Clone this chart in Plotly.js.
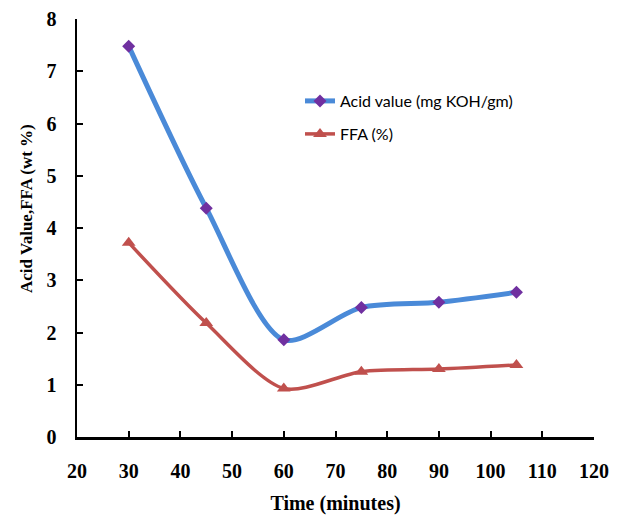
<!DOCTYPE html>
<html>
<head>
<meta charset="utf-8">
<script src="https://cdn.plot.ly/plotly-3.0.1.min.js"></script>
<style>html,body{margin:0;padding:0;background:#fff;}#chart{width:620px;height:515px;}</style>
</head>
<body>
<div id="chart"></div>
<script>
const timeMin = [30, 45, 60, 75, 90, 105];
const acidValue = [7.48, 4.38, 1.86, 2.48, 2.58, 2.77];
const ffaPct = [3.72, 2.18, 0.93, 1.25, 1.30, 1.38];
const xTicks = [20, 30, 40, 50, 60, 70, 80, 90, 100, 110, 120];
const yTicks = [0, 1, 2, 3, 4, 5, 6, 7, 8];

const serif = '"Liberation Serif", "Times New Roman", serif';
const tickFont = {family: serif, size: 20, color: '#000'};
const legFont = {family: 'Lato, "Open Sans", sans-serif', size: 16, color: '#000'};

const traces = [
  {
    x: timeMin, y: acidValue, name: 'Acid value (mg KOH/gm)',
    mode: 'lines+markers', type: 'scatter', legend: 'legend',
    line: {color: '#4A8AD8', width: 5, shape: 'spline', smoothing: 0.8},
    marker: {symbol: 'diamond', color: '#7030A0', size: 10}
  },
  {
    x: timeMin, y: ffaPct, name: 'FFA (%)',
    mode: 'lines+markers', type: 'scatter', legend: 'legend2',
    line: {color: '#C0504D', width: 3.5, shape: 'spline', smoothing: 0.8},
    marker: {symbol: 'triangle-up', color: '#C0504D', size: 12}
  }
];

const legBase = {xanchor: 'left', yanchor: 'middle', font: legFont,
  bgcolor: 'rgba(0,0,0,0)', borderwidth: 0, itemwidth: 30};

const layout = {
  width: 620, height: 515,
  margin: {l: 77, r: 26, t: 19, b: 78},
  paper_bgcolor: '#fff', plot_bgcolor: '#fff',
  showlegend: true,
  legend: Object.assign({}, legBase, {x: (300 - 77) / 517, y: (437 - 101) / 418}),
  legend2: Object.assign({}, legBase, {x: (300 - 77) / 517, y: (437 - 134) / 418}),
  xaxis: {
    range: [20, 120], tickvals: xTicks, ticktext: xTicks.map(v => '<b>' + v + '</b>'),
    ticks: 'inside', ticklen: 6, tickwidth: 2, tickcolor: '#000',
    showline: true, linecolor: '#000', linewidth: 2.5, showgrid: false, zeroline: false,
    tickfont: tickFont, ticklabelstandoff: 14,
    title: {text: '<b>Time (minutes)</b>', font: {family: serif, size: 20, color: '#000'}, standoff: 20}
  },
  yaxis: {
    range: [0, 8], tickvals: yTicks, ticktext: yTicks.map(v => '<b>' + v + '</b>'),
    ticks: 'inside', ticklen: 6, tickwidth: 2, tickcolor: '#000',
    showline: true, linecolor: '#000', linewidth: 2.5, showgrid: false, zeroline: false,
    tickfont: tickFont, ticklabelstandoff: 14
  },
  annotations: [{
    text: '<b>Acid Value,FFA (wt %)</b>', textangle: -90,
    xref: 'paper', yref: 'paper', x: (26 - 77) / 517, y: (437 - 209) / 418,
    xanchor: 'center', yanchor: 'middle',
    showarrow: false, font: {family: serif, size: 17, color: '#000'}
  }]
};

Plotly.newPlot('chart', traces, layout, {displayModeBar: false, staticPlot: true});
</script>
</body>
</html>
